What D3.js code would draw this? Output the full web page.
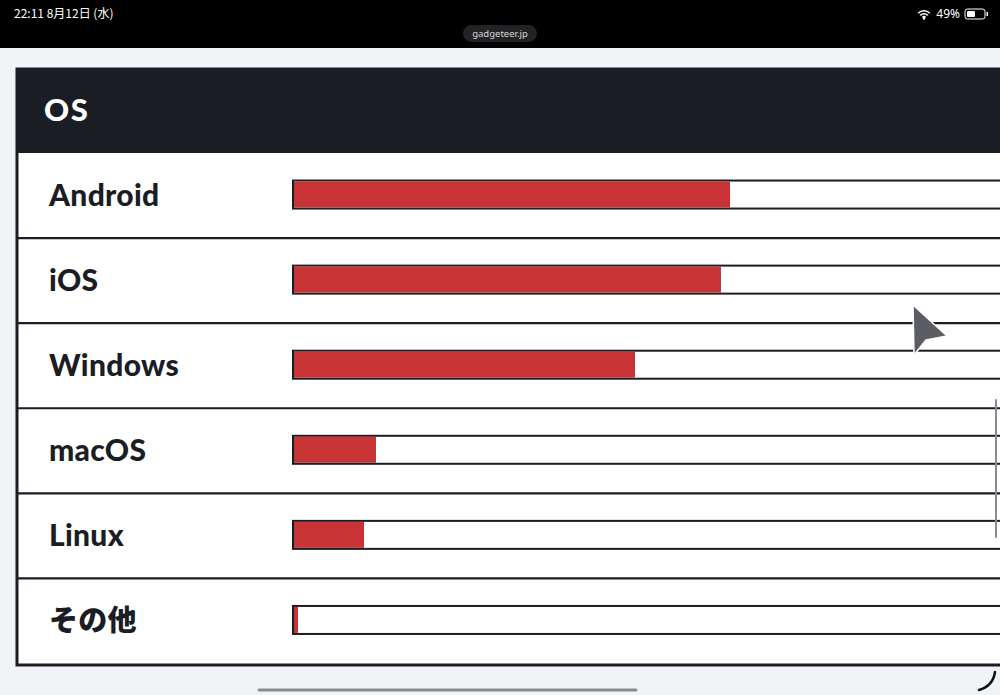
<!DOCTYPE html>
<html>
<head>
<meta charset="utf-8">
<script src="https://cdn.jsdelivr.net/npm/d3@7"></script>
<style>
  html, body { margin: 0; padding: 0; background: #f2f3f7; overflow: hidden; }
  svg { display: block; }
</style>
</head>
<body>
<svg id="svgRoot" width="1000" height="695"></svg>
<script>
// survey values (percent)
const categories = ['Android', 'iOS', 'Windows', 'macOS', 'Linux', 'その他'];
const shares = [43.6, 42.7, 34.1, 8.2, 7.0, 0.4];
const title = 'OS';

const W = 1000;
const H = 695;
const ink = '#1b1d24';
const red = '#c83435';

const svg = d3.select('#svgRoot');

// status bar
svg.append('rect').attr('width', W).attr('height', 48).attr('fill', '#000');
svg.append('text')
  .attr('x', 14).attr('y', 18)
  .attr('fill', '#fff')
  .attr('font-family', '"Noto Sans CJK JP", "Noto Sans", sans-serif')
  .attr('font-size', 12)
  .text('22:11  8月12日 (水)');
svg.append('text')
  .attr('x', 960).attr('y', 18)
  .attr('fill', '#fff')
  .attr('text-anchor', 'end')
  .attr('font-family', '"Noto Sans", sans-serif')
  .attr('font-size', 12)
  .text('49%');
// wifi glyph
const wifi = svg.append('g').attr('transform', 'translate(924,19)');
[9, 6, 3].forEach((r) => {
  wifi.append('path')
    .attr('d', d3.arc()({ innerRadius: r - 1.6, outerRadius: r, startAngle: -Math.PI / 4, endAngle: Math.PI / 4 }))
    .attr('fill', '#fff');
});
wifi.append('circle').attr('cx', 0).attr('cy', -0.5).attr('r', 1.2).attr('fill', '#fff');
// battery
svg.append('rect').attr('x', 965).attr('y', 9).attr('width', 20).attr('height', 10).attr('rx', 2.5)
  .attr('fill', 'none').attr('stroke', '#fff').attr('stroke-width', 1);
svg.append('rect').attr('x', 967).attr('y', 11).attr('width', 8).attr('height', 6).attr('rx', 1).attr('fill', '#fff');
svg.append('rect').attr('x', 986.5).attr('y', 12).attr('width', 1.5).attr('height', 4).attr('fill', '#fff');

// url pill
svg.append('rect').attr('x', 463).attr('y', 25).attr('width', 74).attr('height', 17).attr('rx', 8.5)
  .attr('fill', '#222326');
svg.append('text')
  .attr('x', 500).attr('y', 37)
  .attr('text-anchor', 'middle')
  .attr('fill', '#d8d8d8')
  .attr('font-family', '"Noto Sans", sans-serif')
  .attr('font-size', 9.5)
  .text('gadgeteer.jp');

// card
const cardX = 17;
const cardTop = 69;
const headBottom = 153;
const cardBottom = 665;

svg.append('rect')
  .attr('x', cardX).attr('y', cardTop)
  .attr('width', W + 20).attr('height', cardBottom - cardTop)
  .attr('fill', '#fff')
  .attr('stroke', ink).attr('stroke-width', 3);

svg.append('rect')
  .attr('x', cardX).attr('y', cardTop)
  .attr('width', W + 20).attr('height', headBottom - cardTop)
  .attr('fill', ink);

svg.append('text')
  .attr('x', 44).attr('y', 121)
  .attr('fill', '#fff')
  .attr('font-family', 'Lato, "Noto Sans", sans-serif')
  .attr('font-weight', 900)
  .attr('font-size', 31)
  .attr('letter-spacing', 1.5)
  .text(title);

const y = d3.scaleBand()
  .domain(categories)
  .range([headBottom, cardBottom - 1.5]);

const x = d3.scaleLinear()
  .domain([0, 100])
  .range([294, 1294]);

const rows = svg.append('g')
  .selectAll('g')
  .data(categories.map((c, i) => ({ name: c, value: shares[i] })))
  .join('g')
  .attr('transform', (d) => `translate(0,${y(d.name)})`);

// separators
rows.filter((d, i) => i > 0)
  .append('line')
  .attr('x1', cardX).attr('x2', W)
  .attr('y1', 0).attr('y2', 0)
  .attr('stroke', ink).attr('stroke-width', 2.2);

rows.append('text')
  .attr('x', 49)
  .attr('y', y.bandwidth() / 2 + 10)
  .attr('fill', ink)
  .attr('font-family', (d) => /[^\x00-\x7f]/.test(d.name)
    ? '"Noto Sans CJK JP", sans-serif' : 'Lato, "Noto Sans", sans-serif')
  .attr('font-weight', 900)
  .attr('font-size', (d) => /[^\x00-\x7f]/.test(d.name) ? 29 : 30)
  .attr('letter-spacing', 0.3)
  .text((d) => d.name);

const barH = 28;
rows.append('rect')
  .attr('x', x(0) - 1)
  .attr('y', y.bandwidth() / 2 - barH / 2 - 1)
  .attr('width', x(100) - x(0))
  .attr('height', barH)
  .attr('fill', '#fff')
  .attr('stroke', ink).attr('stroke-width', 2);

rows.append('rect')
  .attr('x', x(0))
  .attr('y', y.bandwidth() / 2 - barH / 2)
  .attr('width', (d) => x(d.value) - x(0))
  .attr('height', barH - 2)
  .attr('fill', red);

// pointer
svg.append('path')
  .attr('d', 'M913,305 L947,336 L926,340 L914,355 Z')
  .attr('fill', '#5c5d63')
  .attr('stroke', '#fff').attr('stroke-width', 1.5).attr('stroke-linejoin', 'round');

// scroll indicator
svg.append('line').attr('x1', 996).attr('x2', 996).attr('y1', 400).attr('y2', 537)
  .attr('stroke', '#8a8b90').attr('stroke-width', 2).attr('stroke-linecap', 'round');

// home indicator
svg.append('line').attr('x1', 259).attr('x2', 636).attr('y1', 690).attr('y2', 690)
  .attr('stroke', '#8a8b90').attr('stroke-width', 3).attr('stroke-linecap', 'round');

// corner arc
svg.append('path')
  .attr('d', 'M995,672 Q993,686 979,690')
  .attr('fill', 'none').attr('stroke', '#111').attr('stroke-width', 2.5).attr('stroke-linecap', 'round');
</script>
</body>
</html>
